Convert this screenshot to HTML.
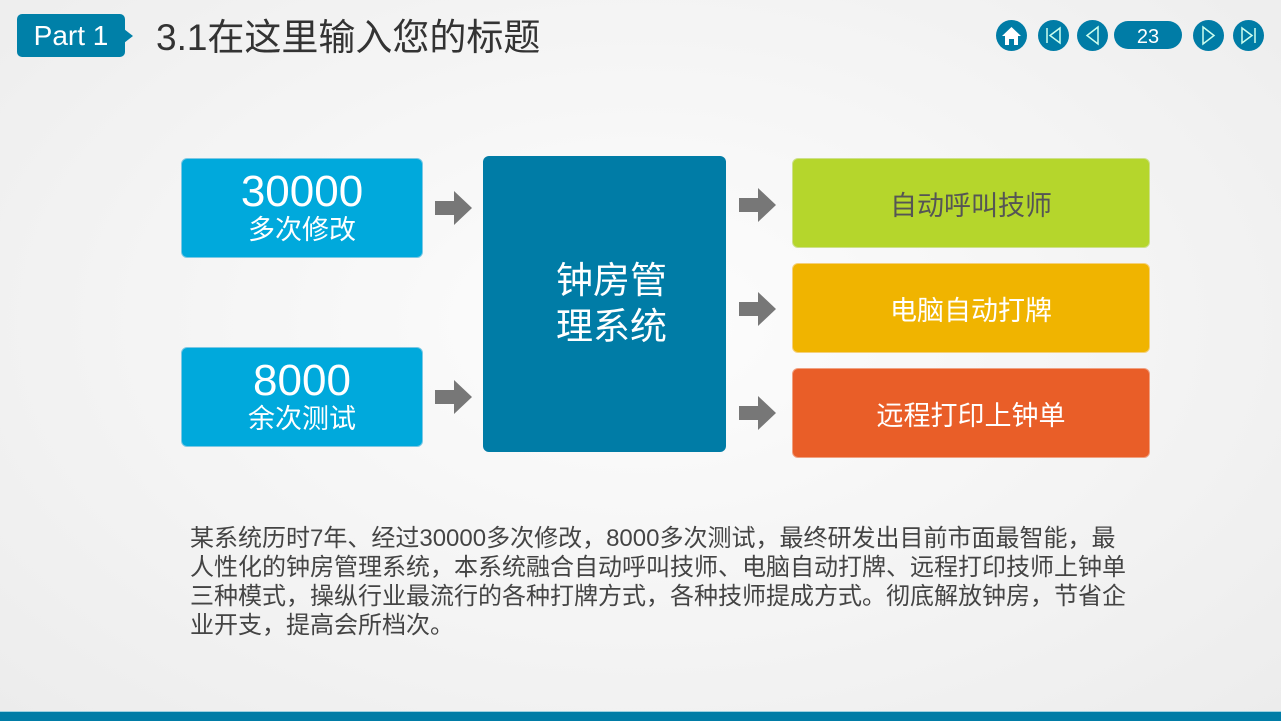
<!DOCTYPE html>
<html><head><meta charset="utf-8"><style>
body{margin:0;width:1281px;height:720px;overflow:hidden;background:radial-gradient(ellipse at 50% 45%,#fdfdfd 0%,#f3f3f3 60%,#ececec 100%);font-family:"Liberation Sans","Noto Sans CJK SC",sans-serif;position:relative}
.a{position:absolute}
.box{position:absolute;border-radius:6px;box-sizing:border-box;display:flex;flex-direction:column;align-items:center;justify-content:center;text-align:center}
.c{width:31px;height:31px;border-radius:50%;background:#007ca6;position:absolute;top:20px}
.arr{position:absolute;width:38px;height:34px}
</style></head><body>
<div class="a" style="left:17px;top:14px;width:108px;height:43px;background:#0080a8;border-radius:5px;color:#fff;font-size:28px;line-height:43px;text-align:center">Part 1</div>
<div class="a" style="left:124px;top:29px;width:0;height:0;border-top:7px solid transparent;border-bottom:7px solid transparent;border-left:9px solid #0080a8"></div>
<div class="a" style="left:156px;top:16px;font-size:37px;color:#333;line-height:44px">3.1在这里输入您的标题</div>

<div class="c" style="left:996px"><svg width="31" height="31"><path d="M6 16 L15.5 7 L25 16 L22 16 L22 25 L18 25 L18 19 L13 19 L13 25 L9 25 L9 16Z" fill="#fff"/></svg></div>
<div class="c" style="left:1038px"><svg width="31" height="31"><line x1="9" y1="8" x2="9" y2="23" stroke="#cfe" stroke-width="1.5"/><path d="M22 8 L12 15.5 L22 23Z" fill="none" stroke="#cfe" stroke-width="1.5"/></svg></div>
<div class="c" style="left:1077px"><svg width="31" height="31"><path d="M21 7 L10 15.5 L21 24Z" fill="none" stroke="#cfe" stroke-width="1.5"/></svg></div>
<div class="a" style="left:1114px;top:21px;width:68px;height:28px;border-radius:14px;background:#007ca6;color:#fff;font-size:20px;text-align:center;line-height:32px">23</div>
<div class="c" style="left:1193px"><svg width="31" height="31"><path d="M10 7 L21 15.5 L10 24Z" fill="none" stroke="#cfe" stroke-width="1.5"/></svg></div>
<div class="c" style="left:1233px"><svg width="31" height="31"><path d="M9 8 L19 15.5 L9 23Z" fill="none" stroke="#cfe" stroke-width="1.5"/><line x1="22" y1="8" x2="22" y2="23" stroke="#cfe" stroke-width="1.5"/></svg></div>

<div class="box" style="left:181px;top:158px;width:242px;height:100px;background:#00a9dc;color:#fff;border:1px solid #7cc8e4"><div style="font-size:44px;line-height:44px">30000</div><div style="font-size:27px;line-height:32px">多次修改</div></div>
<div class="box" style="left:181px;top:347px;width:242px;height:100px;background:#00a9dc;color:#fff;border:1px solid #7cc8e4"><div style="font-size:44px;line-height:44px">8000</div><div style="font-size:27px;line-height:32px">余次测试</div></div>
<div class="box" style="left:483px;top:156px;width:243px;height:296px;background:#007ca6;color:#fff;font-size:37px;line-height:46px;padding-left:14px">钟房管<br>理系统</div>
<div class="box" style="left:792px;top:158px;width:358px;height:90px;background:#b5d62c;color:#555;font-size:27px;border:1px solid #cde08a">自动呼叫技师</div>
<div class="box" style="left:792px;top:263px;width:358px;height:90px;background:#f0b400;color:#fff;font-size:27px;border:1px solid #f5d07a">电脑自动打牌</div>
<div class="box" style="left:792px;top:368px;width:358px;height:90px;background:#e95e28;color:#fff;font-size:27px;border:1px solid #f0a080">远程打印上钟单</div>

<svg class="arr" style="left:435px;top:191px" viewBox="0 0 38 34"><path d="M0 10 H19 V0 L37 17 L19 34 V24 H0Z" fill="#777"/></svg>
<svg class="arr" style="left:435px;top:380px" viewBox="0 0 38 34"><path d="M0 10 H19 V0 L37 17 L19 34 V24 H0Z" fill="#777"/></svg>
<svg class="arr" style="left:739px;top:188px" viewBox="0 0 38 34"><path d="M0 10 H19 V0 L37 17 L19 34 V24 H0Z" fill="#777"/></svg>
<svg class="arr" style="left:739px;top:292px" viewBox="0 0 38 34"><path d="M0 10 H19 V0 L37 17 L19 34 V24 H0Z" fill="#777"/></svg>
<svg class="arr" style="left:739px;top:396px" viewBox="0 0 38 34"><path d="M0 10 H19 V0 L37 17 L19 34 V24 H0Z" fill="#777"/></svg>

<div class="a" style="left:190px;top:524px;width:1000px;font-size:24px;line-height:29px;color:#444;white-space:nowrap">某系统历时7年、经过30000多次修改，8000多次测试，最终研发出目前市面最智能，最<br>人性化的钟房管理系统，本系统融合自动呼叫技师、电脑自动打牌、远程打印技师上钟单<br>三种模式，操纵行业最流行的各种打牌方式，各种技师提成方式。彻底解放钟房，节省企<br>业开支，提高会所档次。</div>

<div class="a" style="left:0;top:711px;width:1281px;height:9px;background:#007ca6;border-top:1px solid #9fd0e0"></div>
</body></html>
